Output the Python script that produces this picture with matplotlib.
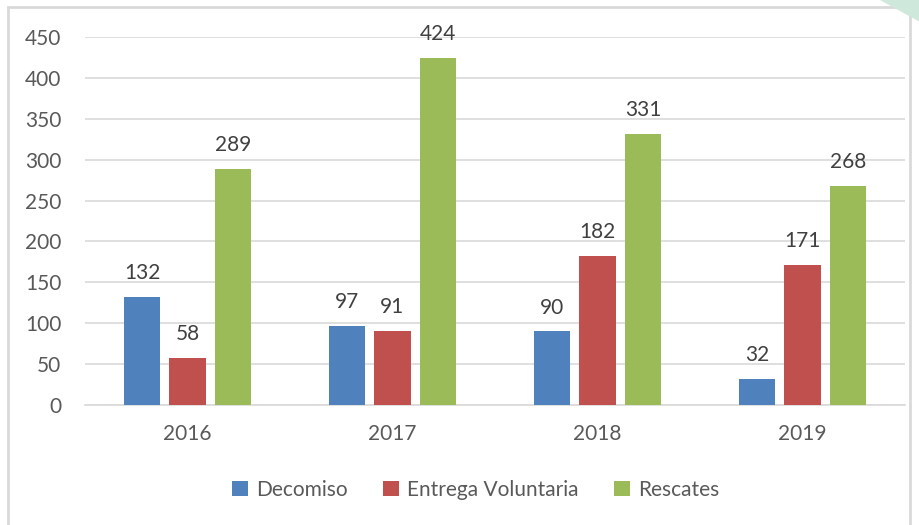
import matplotlib
matplotlib.use("Agg")
import matplotlib.pyplot as plt
import numpy as np
from matplotlib.patches import Rectangle, Polygon

years = ["2016", "2017", "2018", "2019"]
series_names = ["Decomiso", "Entrega Voluntaria", "Rescates"]
decomiso = [132, 97, 90, 32]
entrega = [58, 91, 182, 171]
rescates = [289, 424, 331, 268]
yticks = [0, 50, 100, 150, 200, 250, 300, 350, 400, 450]

colors = ["#4F81BD", "#C0504D", "#9BBB59"]
plt.rcParams['font.family'] = ['Lato', 'DejaVu Sans']
FS = 15

fig = plt.figure(figsize=(9.2, 5.25), dpi=100)
ax = fig.add_axes([85/920, 1-405/525, 820/920, 368/525])

# frame
fig.patches.append(Rectangle((8/920, -0.05), 902/920, 1 - 7/525 + 0.05, transform=fig.transFigure,
                             fill=False, edgecolor="#D9D9D9", linewidth=2))
fig.patches.append(Polygon([(880/920, 1), (1, 1), (1, 1-22/525)], closed=True, transform=fig.transFigure,
                           facecolor="#CFE8DC", edgecolor="none"))

x = np.arange(len(years))
w = 0.176
off = 0.222
data = [decomiso, entrega, rescates]
for i, (vals, c, name) in enumerate(zip(data, colors, series_names)):
    bars = ax.bar(x + (i - 1) * off, vals, w, color=c, label=name, zorder=3)
    for b, v in zip(bars, vals):
        ax.annotate(str(v), (b.get_x() + b.get_width()/2, v), xytext=(0, 10),
                    textcoords="offset points", ha="center", va="bottom",
                    fontsize=FS, color="#404040")

ax.set_xlim(-0.5, 3.5)
ax.set_ylim(0, 450)
ax.set_yticks(yticks)
ax.set_xticks(x)
ax.set_xticklabels(years)
ax.yaxis.grid(True, color="#D9D9D9", linewidth=1.2, zorder=0)
for s in ["top", "right", "left"]:
    ax.spines[s].set_visible(False)
ax.spines["bottom"].set_color("#D9D9D9")
ax.spines["bottom"].set_linewidth(1.2)
ax.tick_params(axis="both", length=0, labelsize=FS, labelcolor="#595959")
ax.tick_params(axis="y", pad=17)
ax.tick_params(axis="x", pad=14)

leg = fig.legend(loc="center", bbox_to_anchor=(476/920, 1-490/525), ncol=3, frameon=False,
                 fontsize=FS, handlelength=0.75, handleheight=0.75, columnspacing=1.7, handletextpad=0.4)
for t in leg.get_texts():
    t.set_color("#595959")

fig.savefig("out.png", dpi=100)
